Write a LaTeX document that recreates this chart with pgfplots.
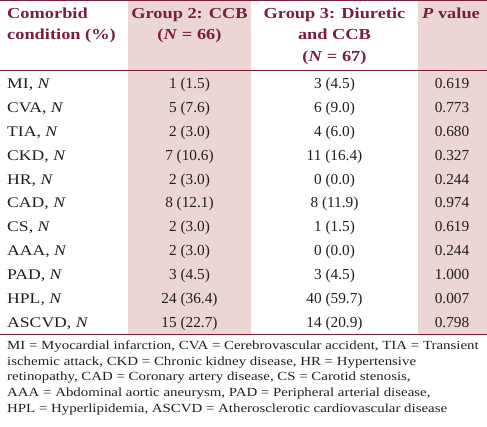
\documentclass[border=0pt]{standalone}
\usepackage{fontspec}
\setmainfont{Liberation Serif}[FakeStretch=1.2]
\newfontfamily\numfont{Liberation Serif}
\usepackage{pgfplots}
\pgfplotsset{compat=1.18}
\definecolor{hdr}{RGB}{122,30,58}
\definecolor{shade}{RGB}{236,214,212}
\definecolor{txt}{RGB}{35,30,30}
\begin{document}
\begin{tikzpicture}[
  body/.style={font=\numfont\fontsize{15.3}{17}\selectfont, text=txt, inner sep=0pt, anchor=base},
  lb/.style={font=\fontsize{14.7}{17}\selectfont, text=txt, inner sep=0pt, anchor=base west},
  hd/.style={font=\fontsize{15.3}{17}\selectfont\bfseries, text=hdr, inner sep=0pt, anchor=base},
  hl/.style={hd, anchor=base west},
  fn/.style={font=\fontsize{12.4}{15}\selectfont, text=txt, inner sep=0pt, anchor=base west}]
\begin{axis}[width=487pt,height=427pt,scale only axis,
  xmin=0,xmax=487,ymin=0,ymax=427,y dir=reverse,hide axis,clip=false]
\addplot[fill=shade,draw=none] coordinates {(128,0)(251,0)(251,334.5)(128,334.5)} -- cycle;
\addplot[fill=shade,draw=none] coordinates {(417.5,0)(487,0)(487,334.5)(417.5,334.5)} -- cycle;
\addplot[hdr,line width=1.3pt] coordinates {(0,0.7)(487,0.7)};
\addplot[hdr,line width=0.9pt] coordinates {(0,70)(487,70)};
\addplot[hdr,line width=1.1pt] coordinates {(0,334.5)(487,334.5)};
% header
\node[hl] at (axis cs:7,18.3) {Comorbid};
\node[hl] at (axis cs:7,40) {condition (\%)};
\node[hd] at (axis cs:189.5,18.3) {Group 2: CCB};
\node[hd] at (axis cs:189.5,40) {(\textit{N} = 66)};
\node[hd] at (axis cs:334.5,18.3) {Group 3: Diuretic};
\node[hd] at (axis cs:334.5,40) {and CCB};
\node[hd] at (axis cs:334.5,61.5) {(\textit{N} = 67)};
\node[hd] at (axis cs:451,18.3) {\textit{P} value};
% rows
\node[lb] at (axis cs:7,89) {MI, \textit{N}};
\node[body] at (axis cs:189.5,89) {1 (1.5)};
\node[body] at (axis cs:334.5,89) {3 (4.5)};
\node[body] at (axis cs:452,89) {0.619};
\node[lb] at (axis cs:7,112.8) {CVA, \textit{N}};
\node[body] at (axis cs:189.5,112.8) {5 (7.6)};
\node[body] at (axis cs:334.5,112.8) {6 (9.0)};
\node[body] at (axis cs:452,112.8) {0.773};
\node[lb] at (axis cs:7,136.6) {TIA, \textit{N}};
\node[body] at (axis cs:189.5,136.6) {2 (3.0)};
\node[body] at (axis cs:334.5,136.6) {4 (6.0)};
\node[body] at (axis cs:452,136.6) {0.680};
\node[lb] at (axis cs:7,160.4) {CKD, \textit{N}};
\node[body] at (axis cs:189.5,160.4) {7 (10.6)};
\node[body] at (axis cs:334.5,160.4) {11 (16.4)};
\node[body] at (axis cs:452,160.4) {0.327};
\node[lb] at (axis cs:7,184.2) {HR, \textit{N}};
\node[body] at (axis cs:189.5,184.2) {2 (3.0)};
\node[body] at (axis cs:334.5,184.2) {0 (0.0)};
\node[body] at (axis cs:452,184.2) {0.244};
\node[lb] at (axis cs:7,208) {CAD, \textit{N}};
\node[body] at (axis cs:189.5,208) {8 (12.1)};
\node[body] at (axis cs:334.5,208) {8 (11.9)};
\node[body] at (axis cs:452,208) {0.974};
\node[lb] at (axis cs:7,231.8) {CS, \textit{N}};
\node[body] at (axis cs:189.5,231.8) {2 (3.0)};
\node[body] at (axis cs:334.5,231.8) {1 (1.5)};
\node[body] at (axis cs:452,231.8) {0.619};
\node[lb] at (axis cs:7,255.6) {AAA, \textit{N}};
\node[body] at (axis cs:189.5,255.6) {2 (3.0)};
\node[body] at (axis cs:334.5,255.6) {0 (0.0)};
\node[body] at (axis cs:452,255.6) {0.244};
\node[lb] at (axis cs:7,279.4) {PAD, \textit{N}};
\node[body] at (axis cs:189.5,279.4) {3 (4.5)};
\node[body] at (axis cs:334.5,279.4) {3 (4.5)};
\node[body] at (axis cs:452,279.4) {1.000};
\node[lb] at (axis cs:7,303.2) {HPL, \textit{N}};
\node[body] at (axis cs:189.5,303.2) {24 (36.4)};
\node[body] at (axis cs:334.5,303.2) {40 (59.7)};
\node[body] at (axis cs:452,303.2) {0.007};
\node[lb] at (axis cs:7,327) {ASCVD, \textit{N}};
\node[body] at (axis cs:189.5,327) {15 (22.7)};
\node[body] at (axis cs:334.5,327) {14 (20.9)};
\node[body] at (axis cs:452,327) {0.798};
% footnote
\node[fn] at (axis cs:7,349.5) {MI = Myocardial infarction, CVA = Cerebrovascular accident, TIA = Transient};
\node[fn] at (axis cs:7,365.2) {ischemic attack, CKD = Chronic kidney disease, HR = Hypertensive};
\node[fn] at (axis cs:7,381) {retinopathy, CAD = Coronary artery disease, CS = Carotid stenosis,};
\node[fn] at (axis cs:7,396.7) {AAA = Abdominal aortic aneurysm, PAD = Peripheral arterial disease,};
\node[fn] at (axis cs:7,412.4) {HPL = Hyperlipidemia, ASCVD = Atherosclerotic cardiovascular disease};
\end{axis}
\pgfresetboundingbox
\path[use as bounding box] (0,0) rectangle (487pt,427pt);
\end{tikzpicture}
\end{document}
